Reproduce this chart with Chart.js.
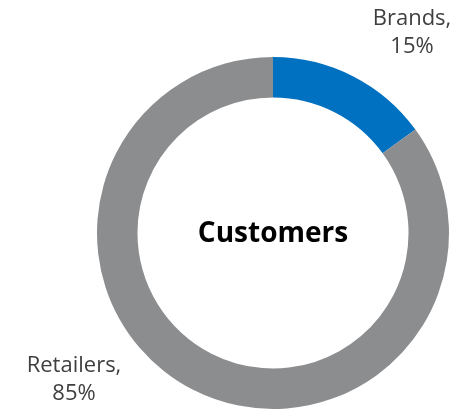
<!DOCTYPE html>
<html lang="en">
<head>
<meta charset="UTF-8">
<title>Customers</title>
<script src="https://cdn.jsdelivr.net/npm/chart.js"></script>
<style>
  html, body { margin: 0; padding: 0; background: #fff; }
  #wrap { width: 454px; height: 410px; position: relative; }
</style>
</head>
<body>
<div id="wrap">
  <canvas id="chart1"></canvas>
</div>
<script>
// data
var labels = ['Brands', 'Retailers'];
var shares = [15, 85];
var colors = ['#0070C0', '#8C8D8F'];

// label text placement (centre x, first line y)
var labelSpots = [
  { x: 412, y: 19 },
  { x: 74, y: 366 }
];

var textPlugin = {
  id: 'textPlugin',
  afterDraw: function (chart) {
    var ctx = chart.ctx;
    var arc = chart.getDatasetMeta(0).data[0];
    ctx.save();
    ctx.textAlign = 'center';
    ctx.textBaseline = 'middle';
    // centre title
    ctx.fillStyle = '#000';
    ctx.font = 'bold 28px "Open Sans", sans-serif';
    ctx.fillText('Customers', arc.x, arc.y + 1);
    // slice labels
    ctx.fillStyle = '#3f3f3f';
    ctx.font = '22px "Open Sans", sans-serif';
    labels.forEach(function (l, i) {
      var p = labelSpots[i];
      ctx.fillText(l + ',', p.x, p.y);
      ctx.fillText(shares[i] + '%', p.x, p.y + 28);
    });
    ctx.restore();
  }
};

var ctx = document.getElementById('chart1').getContext('2d');
var myChart = new Chart(ctx, {
  type: 'doughnut',
  data: {
    labels: labels,
    datasets: [{
      data: shares,
      backgroundColor: colors,
      borderWidth: 0
    }]
  },
  options: {
    responsive: true,
    maintainAspectRatio: false,
    animation: false,
    cutout: '77%',
    layout: { padding: { left: 97, right: 5, top: 57, bottom: 1 } },
    plugins: {
      legend: { display: false },
      tooltip: { enabled: false },
      title: { display: false }
    }
  },
  plugins: [textPlugin]
});
</script>
</body>
</html>
